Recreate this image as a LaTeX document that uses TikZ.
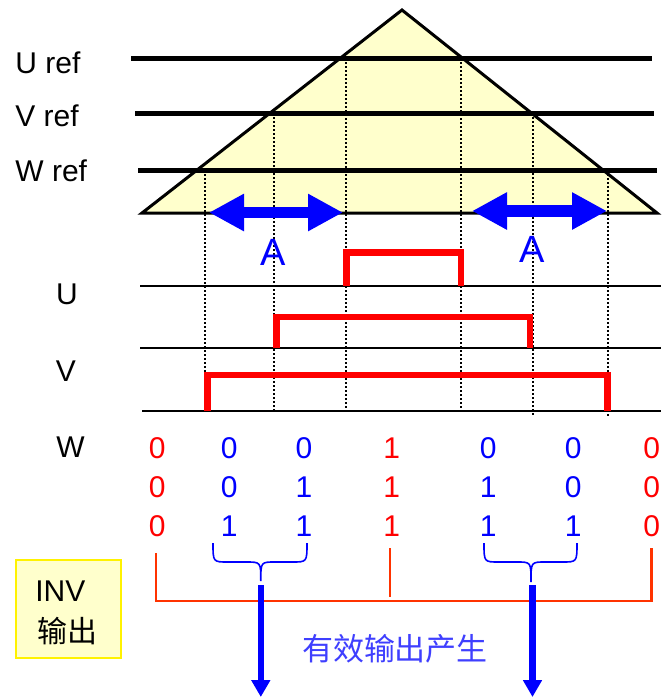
\documentclass[tikz,border=0pt]{standalone}
\usepackage{fontspec}
\setmainfont{Liberation Sans}
\newfontfamily\cjk{Noto Sans CJK SC}
\usetikzlibrary{arrows.meta}
\definecolor{paleyellow}{HTML}{FFFFCC}
\definecolor{orangered}{HTML}{FF3300}
\definecolor{softblue}{HTML}{3F3FFF}

\begin{document}
\begin{tikzpicture}[x=0.5pt, y=-0.5pt, lbl/.style={font=\fontsize{15}{18}\selectfont, inner sep=0pt}, refline/.style={line width=2.5pt}, sigline/.style={line width=1pt}, pulse/.style={red, line width=3.4pt, line join=miter}, guide/.style={line width=0.6pt, dash pattern=on 1pt off 1pt}, span/.style={blue, line width=5.8pt, {Triangle[length=17.5pt,width=17.5pt]}-{Triangle[length=17.5pt,width=17.5pt]}}, outarrow/.style={blue, line width=3.2pt, -{Triangle[length=8.4pt,width=9pt]}}, brace/.style={blue, line width=0.8pt}, bracket/.style={orangered, line width=1.4pt, line join=miter}]
\useasboundingbox (0,0) rectangle (661,698);
\draw[line width=1.5pt, fill=paleyellow] (142,213) -- (402,10) -- (657,213) -- cycle;
\draw[refline] (131,58) -- (652,58);
\draw[refline] (135,113) -- (654,113);
\draw[refline] (138,170) -- (657,170);
\node[lbl, anchor=west] (uref) at (15,62.5) {U ref};
\node[lbl, anchor=west] (vref) at (15,116) {V ref};
\node[lbl, anchor=west] (wref) at (15,171) {W ref};
\foreach \x/\y/\z in {205/170/412, 274/113/412, 346/58/412, 461/58/412, 533/113/416, 608/170/416}
  \draw[guide] (\x,\y) -- (\x,\z);
\coordinate (a1l) at (209,212.5); \coordinate (a1r) at (343,212.5);
\coordinate (a2l) at (472,211); \coordinate (a2r) at (607,211);
\draw[span] (a1l) -- (a1r);
\draw[span] (a2l) -- (a2r);
\node[font=\fontsize{19}{22}\selectfont, text=blue, inner sep=0pt] (A1) at (273,252.5) {A};
\node[font=\fontsize{19}{22}\selectfont, text=blue, inner sep=0pt] (A2) at (532,249) {A};
\draw[sigline] (140,286) -- (661,286);
\draw[sigline] (140,348) -- (661,348);
\draw[sigline] (142,411) -- (661,411);
\draw[pulse] (346.5,286) -- (346.5,252.5) -- (461,252.5) -- (461,286);
\draw[pulse] (276.7,348) -- (276.7,317) -- (530,317) -- (530,348);
\draw[pulse] (207.3,411) -- (207.3,375) -- (607.3,375) -- (607.3,411);
\node[lbl] (U) at (67,294.7) {U};
\node[lbl] (V) at (66,370.8) {V};
\node[lbl] (W) at (70.5,447.5) {W};
\foreach \x/\c/\p/\q/\r [count=\i] in {157.3/red/0/0/0, 229.3/blue/0/0/1, 304/blue/0/1/1, 391.7/red/1/1/1, 488.3/blue/0/1/1, 573.3/blue/0/0/1, 651.7/red/0/0/0} {
  \node[lbl, text=\c] (s\i a) at (\x,448.5) {\p};
  \node[lbl, text=\c] (s\i b) at (\x,487.5) {\q};
  \node[lbl, text=\c] (s\i c) at (\x,526) {\r};
}
\draw[brace] (213,543) .. controls (213,562) .. (228,562) -- (246,562) .. controls (260.8,562) .. (260.8,581) .. controls (260.8,562) .. (275,562) -- (292,562) .. controls (307,562) .. (307,543);
\draw[brace] (484,543) .. controls (484,562) .. (499,562) -- (517,562) .. controls (531,562) .. (531,582) .. controls (531,562) .. (545,562) -- (562,562) .. controls (577,562) .. (577,543);
\draw[bracket] (156,553) -- (156,601) -- (651.5,601) -- (651.5,548);
\draw[bracket] (390,548) -- (390,597);
\coordinate (o1) at (260.8,585); \coordinate (e1) at (260.8,697);
\coordinate (o2) at (532.5,585); \coordinate (e2) at (532.5,697);
\draw[outarrow] (o1) -- (e1);
\draw[outarrow] (o2) -- (e2);
\node[draw=yellow, fill=paleyellow, line width=1pt, minimum width=52.7pt, minimum height=49.2pt, inner sep=0pt] (inv) at (68.7,609.2) {};
\node[lbl, anchor=west] (invtxt) at (35,591) {INV};
\node[lbl, font=\cjk\fontsize{15}{18}\selectfont, anchor=west] (invout) at (37,631) {输出};
\node[font=\cjk\fontsize{15.5}{18}\selectfont, text=softblue, inner sep=0pt] (valid) at (395,649) {有效输出产生};
\end{tikzpicture}
\end{document}
